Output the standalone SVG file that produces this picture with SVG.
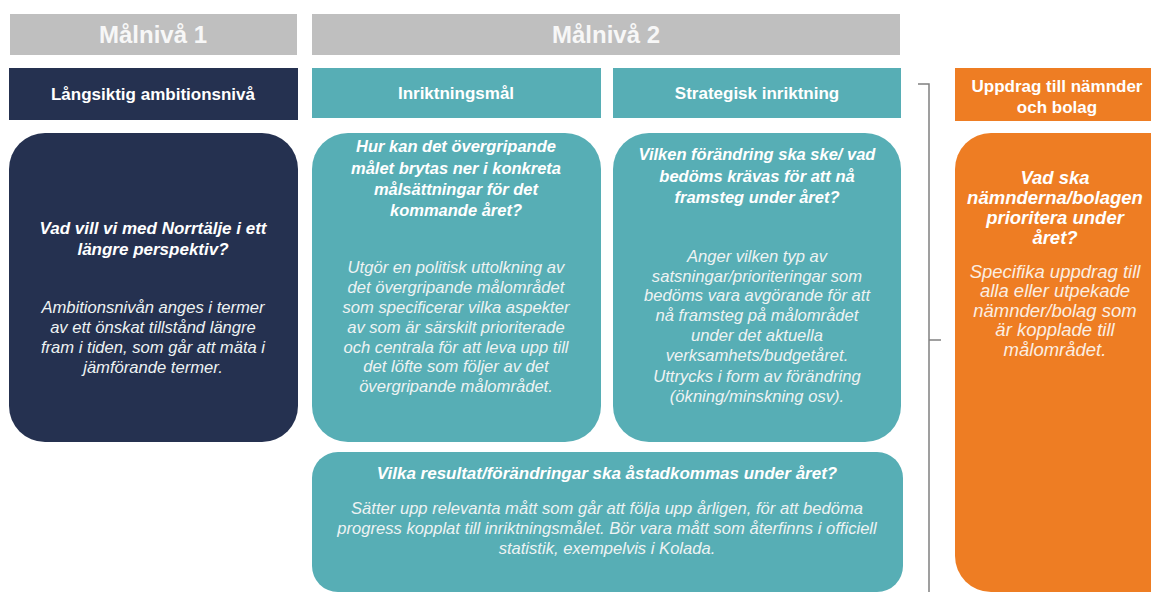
<svg xmlns="http://www.w3.org/2000/svg" width="1151" height="594" viewBox="0 0 1151 594">
<style>
.lvl{fill:#bfbfbf}
.navy{fill:#253150}
.teal{fill:#57aeb5}
.orange{fill:#ee7d23}
text{font-family:"Liberation Sans",Arial,sans-serif;text-anchor:middle;fill:#ffffff}
.h1{font-size:24px;font-weight:bold;fill:#f7f7f7}
.h2{font-size:17px;font-weight:bold}
.q{font-size:16.5px;font-weight:bold;font-style:italic}
.b{font-size:16.6px;font-style:italic;fill:#eef3f3}
.oq{font-size:18.5px;font-weight:bold;font-style:italic}
.ob{font-size:18.5px;font-style:italic;fill:#fbeee2}
.con{fill:none;stroke:#808080;stroke-width:1.5}
</style>
<rect width="1151" height="594" fill="#ffffff"/>
<g id="malniva1">
<rect class="lvl" x="10" y="14" width="287" height="41"/>
<text class="h1" x="153" y="43">Målnivå 1</text>
</g>
<g id="malniva2">
<rect class="lvl" x="312" y="14" width="588" height="41"/>
<text class="h1" x="606" y="43">Målnivå 2</text>
</g>
<g id="langsiktig-header">
<rect class="navy" x="9" y="68" width="289" height="52"/>
<text class="h2" x="153" y="100">Långsiktig ambitionsnivå</text>
</g>
<g id="inriktningsmal-header">
<rect class="teal" x="312" y="68" width="289" height="50"/>
<text class="h2" x="456" y="99">Inriktningsmål</text>
</g>
<g id="strategisk-header">
<rect class="teal" x="613" y="68" width="288" height="50"/>
<text class="h2" x="757" y="99">Strategisk inriktning</text>
</g>
<g id="uppdrag-header">
<rect class="orange" x="955" y="68" width="196" height="53"/>
<text class="h2" x="1057" y="92">Uppdrag till nämnder</text>
<text class="h2" x="1057" y="113">och bolag</text>
</g>
<g id="langsiktig-box">
<rect class="navy" x="9" y="133" width="289" height="309" rx="36"/>
<text class="q" style="font-size:17px"><tspan x="153" y="234">Vad vill vi med Norrtälje i ett</tspan><tspan x="153" y="255">längre perspektiv?</tspan></text>
<text class="b"><tspan x="153" y="313">Ambitionsnivån anges i termer</tspan><tspan x="153" y="333">av ett önskat tillstånd längre</tspan><tspan x="153" y="353">fram i tiden, som går att mäta i</tspan><tspan x="153" y="373">jämförande termer.</tspan></text>
</g>
<g id="inriktningsmal-box">
<rect class="teal" x="312" y="133" width="289" height="309" rx="36"/>
<text class="q"><tspan x="456" y="152">Hur kan det övergripande</tspan><tspan x="456" y="174">målet brytas ner i konkreta</tspan><tspan x="456" y="195">målsättningar för det</tspan><tspan x="456" y="216">kommande året?</tspan></text>
<text class="b"><tspan x="456" y="273">Utgör en politisk uttolkning av</tspan><tspan x="456" y="293">det övergripande målområdet</tspan><tspan x="456" y="313">som specificerar vilka aspekter</tspan><tspan x="456" y="333">av som är särskilt prioriterade</tspan><tspan x="456" y="353">och centrala för att leva upp till</tspan><tspan x="456" y="372">det löfte som följer av det</tspan><tspan x="456" y="392">övergripande målområdet.</tspan></text>
</g>
<g id="strategisk-box">
<rect class="teal" x="613" y="133" width="288" height="309" rx="36"/>
<text class="q"><tspan x="757" y="160">Vilken förändring ska ske/ vad</tspan><tspan x="757" y="182">bedöms krävas för att nå</tspan><tspan x="757" y="203">framsteg under året?</tspan></text>
<text class="b"><tspan x="757" y="262">Anger vilken typ av</tspan><tspan x="757" y="282">satsningar/prioriteringar som</tspan><tspan x="757" y="301">bedöms vara avgörande för att</tspan><tspan x="757" y="321">nå framsteg på målområdet</tspan><tspan x="757" y="341">under det aktuella</tspan><tspan x="757" y="361">verksamhets/budgetåret.</tspan><tspan x="757" y="382">Uttrycks i form av förändring</tspan><tspan x="757" y="402">(ökning/minskning osv).</tspan></text>
</g>
<g id="resultat-box">
<rect class="teal" x="312" y="452" width="591" height="140" rx="26"/>
<text class="q" style="font-size:17px" x="607" y="479">Vilka resultat/förändringar ska åstadkommas under året?</text>
<text class="b"><tspan x="607" y="514">Sätter upp relevanta mått som går att följa upp årligen, för att bedöma</tspan><tspan x="607" y="534">progress kopplat till inriktningsmålet. Bör vara mått som återfinns i officiell</tspan><tspan x="607" y="554">statistik, exempelvis i Kolada.</tspan></text>
</g>
<g id="uppdrag-box">
<rect class="orange" x="955" y="133" width="230" height="459" rx="36"/>
<text class="oq"><tspan x="1055" y="184">Vad ska</tspan><tspan x="1055" y="204">nämnderna/bolagen</tspan><tspan x="1055" y="224">prioritera under</tspan><tspan x="1055" y="244">året?</tspan></text>
<text class="ob"><tspan x="1055" y="278">Specifika uppdrag till</tspan><tspan x="1055" y="297">alla eller utpekade</tspan><tspan x="1055" y="317">nämnder/bolag som</tspan><tspan x="1055" y="336">är kopplade till</tspan><tspan x="1055" y="356">målområdet.</tspan></text>
</g>
<g id="connectors">
<path class="con" d="M918 84 H929 V592"/>
<path class="con" d="M929 340 H941"/>
</g>
</svg>
